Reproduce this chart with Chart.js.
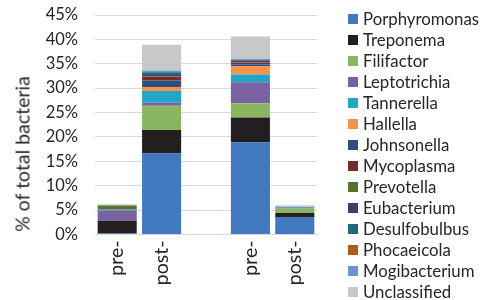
<!DOCTYPE html>
<html>
<head>
<meta charset="utf-8">
<script src="https://cdn.jsdelivr.net/npm/chart.js@4/dist/chart.umd.min.js"></script>
<style>
  html,body{margin:0;padding:0;background:#fff;}
  #wrap{position:relative;width:480px;height:300px;overflow:hidden;font-family:Lato,"Open Sans",sans-serif;color:#262626;}
  #c{position:absolute;left:0;top:0;}
  #ytitle{position:absolute;left:22px;top:154px;transform:translate(-50%,-50%) rotate(-90deg);white-space:nowrap;font-size:19.5px;}
  #legend{position:absolute;left:348px;top:8px;font-size:16.8px;}
  .li{height:21px;display:flex;align-items:center;white-space:nowrap;}
  .sw{width:10px;height:10px;margin-right:5px;flex:none;}
</style>
</head>
<body>
<div id="wrap">
  <canvas id="c" width="480" height="300"></canvas>
  <div id="ytitle">% of total bacteria</div>
  <div id="legend"></div>
</div>
<script>
const categories = ["pre-", "post-", "", "pre-", "post-"];
const seriesNames = ["Porphyromonas","Treponema","Filifactor","Leptotrichia","Tannerella","Hallella","Johnsonella","Mycoplasma","Prevotella","Eubacterium","Desulfobulbus","Phocaeicola","Mogibacterium","Unclassified"];
const seriesColors = ["#4178BE","#231F20","#8AB661","#7862A1","#23A5C5","#F4934B","#2C4F7C","#7B2A2B","#55722F","#473A68","#1F6B7B","#B25A1C","#6B96CB","#C8C8C8"];

const porphyromonas = [0.2, 16.6, null, 18.9, 3.6];
const treponema     = [2.6, 4.8, null, 5.1, 0.8];
const filifactor    = [0, 5.0, null, 2.9, 0.9];
const leptotrichia  = [2.1, 0.6, null, 4.3, 0];
const tannerella    = [0.15, 2.4, null, 1.6, 0];
const hallella      = [0, 0.85, null, 1.7, 0];
const johnsonella   = [0.1, 1.3, null, 0.35, 0];
const mycoplasma    = [0, 0.8, null, 0.35, 0];
const prevotella    = [0.8, 0.1, null, 0.1, 0.05];
const eubacterium   = [0, 0.25, null, 0.35, 0];
const desulfobulbus = [0, 0.55, null, 0.1, 0];
const phocaeicola   = [0, 0, null, 0.05, 0];
const mogibacterium = [0, 0.35, null, 0.2, 0.3];
const unclassified  = [0.25, 5.3, null, 4.6, 0.35];

const yTicks = [0,5,10,15,20,25,30,35,40,45];

const seriesValues = [porphyromonas,treponema,filifactor,leptotrichia,tannerella,hallella,johnsonella,mycoplasma,prevotella,eubacterium,desulfobulbus,phocaeicola,mogibacterium,unclassified];

const datasets = seriesNames.map((n,i)=>({
  label:n, data:seriesValues[i], backgroundColor:seriesColors[i],
  borderWidth:0, categoryPercentage:1, barPercentage:0.88
}));

const FONT = "Lato";
new Chart(document.getElementById('c'), {
  type:'bar',
  data:{labels:categories, datasets},
  options:{
    responsive:false, animation:false,
    layout:{padding:{left:0,right:163,top:15,bottom:0}},
    plugins:{legend:{display:false}, tooltip:{enabled:false}},
    scales:{
      x:{stacked:true,
         grid:{display:false, drawTicks:false},
         border:{display:true,color:'#D9D9D9',width:1},
         ticks:{color:'#262626',font:{family:FONT,size:19.5},maxRotation:90,minRotation:90,padding:6},
         afterFit(s){s.height=65.5; s.paddingLeft=0; s.paddingRight=0;}
      },
      y:{stacked:true,min:0,max:45,
         afterBuildTicks(s){s.ticks=yTicks.map(v=>({value:v}));},
         grid:{color:'#D9D9D9',lineWidth:1,drawTicks:false},
         border:{display:false},
         ticks:{color:'#262626',font:{family:FONT,size:16.5},padding:17,callback:v=>v+'%'},
         afterFit(s){s.width=95; s.paddingTop=0; s.paddingBottom=0;}
      }
    }
  }
});

const lg=document.getElementById('legend');
seriesNames.forEach((n,i)=>{
  const d=document.createElement('div');d.className='li';
  d.innerHTML='<span class="sw" style="background:'+seriesColors[i]+'"></span><span>'+n+'</span>';
  lg.appendChild(d);
});
</script>
</body>
</html>
